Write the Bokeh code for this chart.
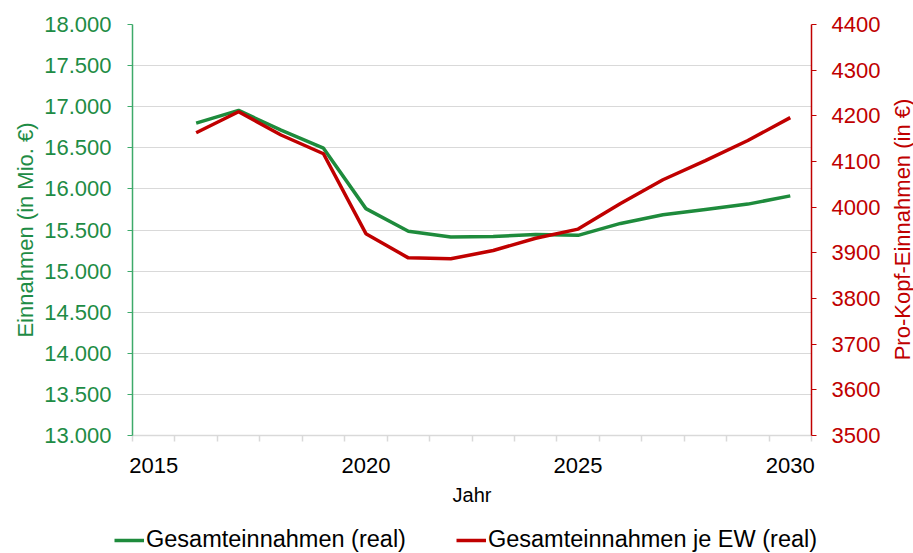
import math
from bokeh.plotting import figure
from bokeh.models import Range1d, LinearAxis, FixedTicker, Legend, LegendItem, Label
from bokeh.layouts import column, row
from bokeh.embed import file_html
from bokeh.resources import INLINE

# ---- data ----
years = [2016, 2017, 2018, 2019, 2020, 2021, 2022, 2023, 2024, 2025, 2026, 2027, 2028, 2029, 2030]
gesamt = [16800, 16955, 16715, 16495, 15760, 15485, 15415, 15420, 15445, 15435, 15580, 15685, 15750, 15815, 15915]
pro_kopf = [4163, 4209, 4158, 4117, 3942, 3889, 3887, 3905, 3932, 3952, 4008, 4060, 4102, 4146, 4196]

left_ticks = [13000, 13500, 14000, 14500, 15000, 15500, 16000, 16500, 17000, 17500, 18000]
left_labels = ["13.000", "13.500", "14.000", "14.500", "15.000", "15.500", "16.000", "16.500", "17.000", "17.500", "18.000"]
right_ticks = [3500, 3600, 3700, 3800, 3900, 4000, 4100, 4200, 4300, 4400]
x_label_years = [2015, 2020, 2025, 2030]
x_bounds = [2014.5, 2015.5, 2016.5, 2017.5, 2018.5, 2019.5, 2020.5, 2021.5, 2022.5,
            2023.5, 2024.5, 2025.5, 2026.5, 2027.5, 2028.5, 2029.5, 2030.5]

GREEN_LINE = "#1E8B3C"
GREEN_AXIS = "#3DAA6A"
GREEN_TEXT = "#1E8C45"
RED = "#C00000"
GRID = "#D9D9D9"
FONT = "Liberation Sans"

MAIN_H = 525
TITLE_W = 22
LEG_H = 28

p = figure(frame_width=679, frame_height=411,
           min_border_left=132, min_border_right=80, min_border_top=24, min_border_bottom=90,
           x_range=Range1d(x_bounds[0], x_bounds[-1]),
           y_range=Range1d(left_ticks[0], left_ticks[-1]),
           output_backend="svg", toolbar_location=None)
p.outline_line_color = None
p.background_fill_color = "white"
p.border_fill_color = "white"

p.extra_y_ranges = {"pk": Range1d(right_ticks[0], right_ticks[-1])}

# grid
p.xgrid.visible = False
p.ygrid.ticker = FixedTicker(ticks=left_ticks)
p.ygrid.grid_line_color = GRID
p.ygrid.grid_line_width = 1

# left axis
ya = p.yaxis[0]
ya.ticker = FixedTicker(ticks=left_ticks)
ya.major_label_overrides = {t: l for t, l in zip(left_ticks, left_labels)}
ya.axis_line_color = GREEN_AXIS
ya.axis_line_width = 1.5
ya.major_tick_line_color = GREEN_AXIS
ya.major_tick_in = 0
ya.major_tick_out = 5
ya.minor_tick_line_color = None
ya.major_label_standoff = 16
ya.major_label_text_color = GREEN_TEXT
ya.major_label_text_font = FONT
ya.major_label_text_font_size = "22px"
ya.axis_label = "Einnahmen (in Mio. €)"
ya.axis_label_text_color = GREEN_TEXT
ya.axis_label_text_font = FONT
ya.axis_label_text_font_size = "22px"
ya.axis_label_text_font_style = "normal"
ya.axis_label_standoff = 3

# right axis (line, ticks, labels)
ra = LinearAxis(y_range_name="pk", ticker=FixedTicker(ticks=right_ticks))
ra.axis_line_color = RED
ra.axis_line_width = 1.5
ra.major_tick_line_color = RED
ra.major_tick_in = 0
ra.major_tick_out = 5
ra.minor_tick_line_color = None
ra.major_label_standoff = 15
ra.major_label_text_color = RED
ra.major_label_text_font = FONT
ra.major_label_text_font_size = "22px"
p.add_layout(ra, "right")

# bottom axis
xa = p.xaxis[0]
xa.ticker = FixedTicker(ticks=x_label_years, minor_ticks=x_bounds)
xa.axis_line_color = GRID
xa.axis_line_width = 1.5
xa.major_tick_in = 0
xa.major_tick_out = 0
xa.major_tick_line_color = None
xa.minor_tick_in = 0
xa.minor_tick_out = 6
xa.minor_tick_line_color = GRID
xa.minor_tick_line_width = 1.5
xa.major_label_standoff = 16
xa.major_label_text_color = "black"
xa.major_label_text_font = FONT
xa.major_label_text_font_size = "22px"
xa.axis_label = "Jahr"
xa.axis_label_text_color = "black"
xa.axis_label_text_font = FONT
xa.axis_label_text_font_size = "20px"
xa.axis_label_text_font_style = "normal"
xa.axis_label_standoff = 8

# lines
p.line(years, gesamt, line_color=GREEN_LINE, line_width=3.5)
p.line(years, pro_kopf, y_range_name="pk", line_color=RED, line_width=3.5)

# right axis title, reading bottom-to-top, in a narrow strip
tf = figure(width=TITLE_W, height=MAIN_H, x_range=Range1d(0, 1), y_range=Range1d(0, 1),
            min_border=0, x_axis_location=None, y_axis_location=None,
            output_backend="svg", toolbar_location=None)
tf.grid.visible = False
tf.outline_line_color = None
tf.add_layout(Label(x=TITLE_W / 2, y=206, x_units="screen", y_units="screen",
                    text="Pro-Kopf-Einnahmen (in €)", angle=math.pi / 2,
                    text_align="center", text_baseline="middle",
                    text_color=RED, text_font=FONT, text_font_size="22px"))

# legend strip
lf = figure(width=p.frame_width + 132 + 80 + TITLE_W, height=LEG_H,
            x_range=Range1d(0, 1), y_range=Range1d(0, 1),
            min_border=0, x_axis_location=None, y_axis_location=None,
            output_backend="svg", toolbar_location=None)
lf.grid.visible = False
lf.outline_line_color = None
lg = lf.line(years, gesamt, line_color=GREEN_LINE, line_width=3.5)
lr = lf.line(years, pro_kopf, line_color=RED, line_width=3.5)
legend = Legend(items=[LegendItem(label="Gesamteinnahmen (real)", renderers=[lg]),
                       LegendItem(label="Gesamteinnahmen je EW (real)", renderers=[lr])],
                orientation="horizontal", location=(114, 0),
                glyph_width=30, glyph_height=20, label_standoff=2, spacing=50,
                padding=0, margin=0, border_line_color=None, background_fill_alpha=0,
                label_text_font=FONT, label_text_font_size="23.5px", label_text_color="black")
lf.add_layout(legend)

layout = column(row(p, tf, spacing=0), lf, spacing=0)

open("out.html", "w").write(file_html(layout, INLINE))
